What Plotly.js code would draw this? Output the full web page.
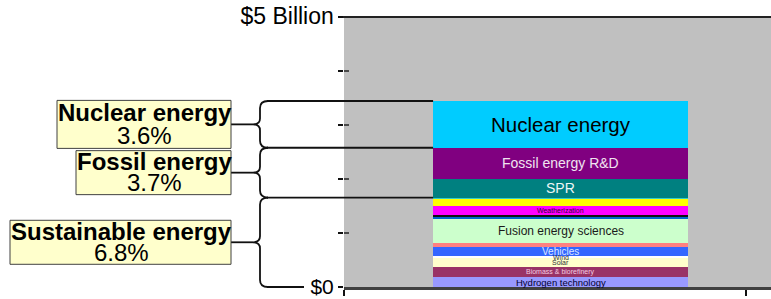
<!DOCTYPE html>
<html><head><meta charset="utf-8">
<script src="https://cdn.plot.ly/plotly-3.0.1.min.js"></script>
<style>html,body{margin:0;padding:0;background:#fff;}#chart{width:771px;height:299px;}</style>
</head><body><div id="chart"></div>
<script>
// ---------------- data (bottom of stack to top) ----------------
const segmentNames = ['Hydrogen technology','Biomass & biorefinery','Solar','Wind','Vehicles','Other renewables',
  'Fusion energy sciences','Other efficiency','Divider','Weatherization','Other conservation','Other fossil',
  'SPR','Fossil energy R&D','Nuclear energy'];
const segmentValues = [0.18, 0.185, 0.167, 0.037, 0.172, 0.074, 0.439, 0.045, 0.03, 0.17, 0.135, 0.022, 0.343, 0.58, 0.865];
const segmentColors = ['#9999FF','#993366','#FFFFCC','#FFFFFF','#3366FF','#FF8080','#CCFFCC','#0066CC','#111111',
  '#FF00FF','#FFFF00','#33CCCC','#008080','#800080','#00CCFF'];
const segmentLabels = ['Hydrogen technology','Biomass &amp; biorefinery','Solar','Wind','Vehicles','',
  'Fusion energy sciences','','','Weatherization','','','SPR','Fossil energy R&amp;D','Nuclear energy'];
const segmentLabelSizes = [9.5, 7, 7, 7, 10, 0, 12, 0, 0, 7, 0, 0, 14, 14, 20.5];
const segmentLabelColors = ['#000033','#F4CCE0','#333333','#333333','#DDE6FF','', '#1a1a1a','','','#330033','','',
  '#EEF6F6','#F0E4F0','#000000'];
const groupNames = ['Sustainable energy','Fossil energy','Nuclear energy'];
const groupShares = ['6.8%','3.7%','3.6%'];
const groupSegmentCounts = [12, 2, 1];
const yTickValues = [0, 1, 2, 3, 4, 5];
const yTickLabels = ['$0', '', '', '', '', '<span style="font-size:23px">$5 Billion</span>'];

// ---------------- geometry / style ----------------
const W = 771, H = 299, ML = 344, MR = 0, MT = 17, MB = 12;
const plotW = W - ML - MR, plotH = H - MT - MB;
const X_MAX = 427 / 402;           // x-axis range [0, X_MAX]
const BAR_POS = 0.5386, BAR_WIDTH = 0.634;
const Y_MAX = 5;
const FONT = 'Liberation Sans, Arial, sans-serif';
const boxLeftPx = [10, 76, 57];
const boxHeightPx = [44, 44, 48];
const boxRightPx = 231;

const PX = px => (px - ML) / plotW;               // pixel x -> paper x
const PY = py => (H - MB - py) / plotH;           // pixel y -> paper y
const yPx = v => (H - MB) - v / Y_MAX * plotH;    // value -> pixel y
const xPx = v => ML + v / X_MAX * plotW;          // x value -> pixel x

// ---------------- traces ----------------
const traces = segmentValues.map((v, i) => ({
  type: 'bar', x: [BAR_POS], y: [v], width: BAR_WIDTH, name: segmentNames[i],
  marker: {color: segmentColors[i], line: {width: 0}}, hoverinfo: 'skip'
}));

// ---------------- annotations & shapes ----------------
const annotations = [];
const shapes = [];
let cum = 0;
segmentValues.forEach((v, i) => {
  if (segmentLabels[i]) {
    annotations.push({xref: 'x', yref: 'y', x: BAR_POS, y: cum + v / 2, text: segmentLabels[i], showarrow: false,
      font: {family: FONT, size: segmentLabelSizes[i], color: segmentLabelColors[i]}, xanchor: 'center', yanchor: 'middle'});
  }
  cum += v;
});

const barLeftPx = xPx(BAR_POS - BAR_WIDTH / 2);
const lineStyle = {color: '#111111', width: 1.8};
let start = 0;
groupSegmentCounts.forEach((n, g) => {
  const lo = segmentValues.slice(0, start).reduce((a, b) => a + b, 0);
  const hi = lo + segmentValues.slice(start, start + n).reduce((a, b) => a + b, 0);
  start += n;
  const t = yPx(hi), b = yPx(lo), m = (t + b) / 2;
  const path = `M ${PX(268)},${PY(t)} Q ${PX(260)},${PY(t)} ${PX(260)},${PY(t + 7)} L ${PX(260)},${PY(m - 6)} ` +
    `Q ${PX(260)},${PY(m)} ${PX(253)},${PY(m)} Q ${PX(260)},${PY(m)} ${PX(260)},${PY(m + 6)} ` +
    `L ${PX(260)},${PY(b - 7)} Q ${PX(260)},${PY(b)} ${PX(268)},${PY(b)}`;
  shapes.push({type: 'path', xref: 'paper', yref: 'paper', path: path, line: lineStyle});
  shapes.push({type: 'line', xref: 'paper', yref: 'paper', x0: PX(boxRightPx), x1: PX(253), y0: PY(m), y1: PY(m), line: lineStyle});
  shapes.push({type: 'line', xref: 'paper', yref: 'paper', x0: PX(267), x1: PX(barLeftPx), y0: PY(t), y1: PY(t), line: lineStyle});
  if (g === 0) shapes.push({type: 'line', xref: 'paper', yref: 'paper', x0: PX(267), x1: PX(304), y0: PY(b), y1: PY(b), line: lineStyle});
  const h = boxHeightPx[g];
  shapes.push({type: 'rect', xref: 'paper', yref: 'paper', x0: PX(boxLeftPx[g]), x1: PX(boxRightPx),
    y0: PY(m - h / 2), y1: PY(m + h / 2), fillcolor: '#FFFFCC', line: {color: '#404040', width: 1}});
  const cx = PX((boxLeftPx[g] + boxRightPx) / 2 + 0.5);
  annotations.push({xref: 'paper', yref: 'paper', x: cx, y: PY(m - h / 4), text: '<b>' + groupNames[g] + '</b>',
    showarrow: false, xanchor: 'center', yanchor: 'middle', font: {family: FONT, size: 24, color: '#000'}});
  annotations.push({xref: 'paper', yref: 'paper', x: cx, y: PY(m + h / 4 - 1), text: groupShares[g],
    showarrow: false, xanchor: 'center', yanchor: 'middle', font: {family: FONT, size: 24, color: '#000'}});
});

// top border line and inner halves of the y ticks
shapes.push({type: 'line', xref: 'paper', yref: 'paper', x0: PX(343), x1: 1, y0: 1, y1: 1, line: {color: '#222', width: 2}});
yTickValues.slice(1, -1).forEach(v => {
  shapes.push({type: 'line', xref: 'paper', yref: 'y', x0: 0, x1: PX(349), y0: v, y1: v, line: {color: '#222', width: 1.5}});
});

const layout = {
  width: W, height: H, margin: {l: ML, r: MR, t: MT, b: MB, pad: 0},
  paper_bgcolor: '#FFFFFF', plot_bgcolor: '#C0C0C0', barmode: 'stack', showlegend: false,
  font: {family: FONT, color: '#000'},
  xaxis: {range: [0, X_MAX], tickvals: [0, 1], showticklabels: false, ticks: 'outside', ticklen: 6, tickwidth: 1.5,
    tickcolor: '#111', showline: true, linecolor: '#404040', linewidth: 2.5, showgrid: false, zeroline: false, fixedrange: true},
  yaxis: {range: [0, Y_MAX], tickvals: yTickValues, ticktext: yTickLabels, ticks: 'outside', ticklen: 5, tickwidth: 1.5,
    tickcolor: '#111', showline: false, showgrid: false, zeroline: false, fixedrange: true,
    tickfont: {family: FONT, size: 21, color: '#000'}},
  shapes: shapes, annotations: annotations
};

Plotly.newPlot('chart', traces, layout, {staticPlot: true, displayModeBar: false});
</script>
</body></html>
